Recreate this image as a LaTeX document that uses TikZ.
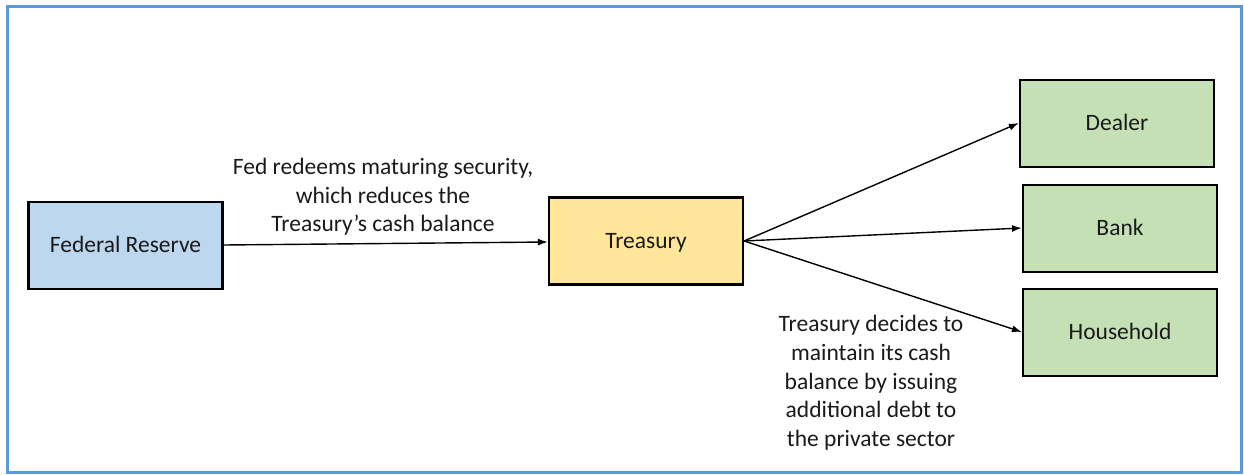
\documentclass[tikz,border=0pt]{standalone}
\usepackage{fontspec}
\setmainfont{Carlito}
\usetikzlibrary{arrows.meta}
\definecolor{frameblue}{HTML}{5B9BD5}
\definecolor{fedfill}{HTML}{BDD7EE}
\definecolor{tresfill}{HTML}{FFE699}
\definecolor{greenfill}{HTML}{C5E0B4}
\definecolor{txt}{HTML}{1A1A1A}
\tikzset{
  box/.style={draw=black, line width=2.2pt, minimum width=194pt, minimum height=87pt, inner sep=0pt, text height=17pt, text depth=3pt, text=txt, font=\fontsize{23.5}{29}\selectfont},
  conn/.style={line width=1.4pt, -{Latex[length=10pt,width=7pt]}},
  lbl/.style={align=center, text=txt, font=\fontsize{23.5}{28.7}\selectfont, inner sep=0pt}
}
\begin{document}
\begin{tikzpicture}[x=1pt,y=-1pt]
\useasboundingbox (0,0) rectangle (1244,474);
\fill[white] (0,0) rectangle (1244,474);
\draw[frameblue, line width=3.2pt] (7.8,6.3) rectangle (1241.5,472.5);
\node[box, fill=fedfill] (fed) at (125.5,245.5) {Federal Reserve};
\node[box, fill=tresfill] (tres) at (646,241) {Treasury};
\node[box, fill=greenfill] (dealer) at (1117,123.5) {Dealer};
\node[box, fill=greenfill] (bank) at (1120,228.5) {Bank};
\node[box, fill=greenfill] (house) at (1120,332.5) {Household};
\coordinate (ya) at (0,245);
\coordinate (yb) at (0,242);
\coordinate (yc) at (0,241);
\coordinate (yd) at (0,123);
\coordinate (ye) at (0,228);
\coordinate (yf) at (0,332);
\coordinate (fedout) at (fed.east |- ya);
\coordinate (tresin) at (tres.west |- yb);
\coordinate (tresout) at (tres.east |- yc);
\draw[conn] (fedout) -- (tresin);
\draw[conn] (tresout) -- (dealer.west |- yd);
\draw[conn] (tresout) -- (bank.west |- ye);
\draw[conn] (tresout) -- (house.west |- yf);
\node[lbl] (l1) at (383,197) {Fed redeems maturing security,\\which reduces the\\Treasury’s cash balance};
\node[lbl] (l2) at (871,383) {Treasury decides to\\maintain its cash\\balance by issuing\\additional debt to\\the private sector};
\end{tikzpicture}
\end{document}
